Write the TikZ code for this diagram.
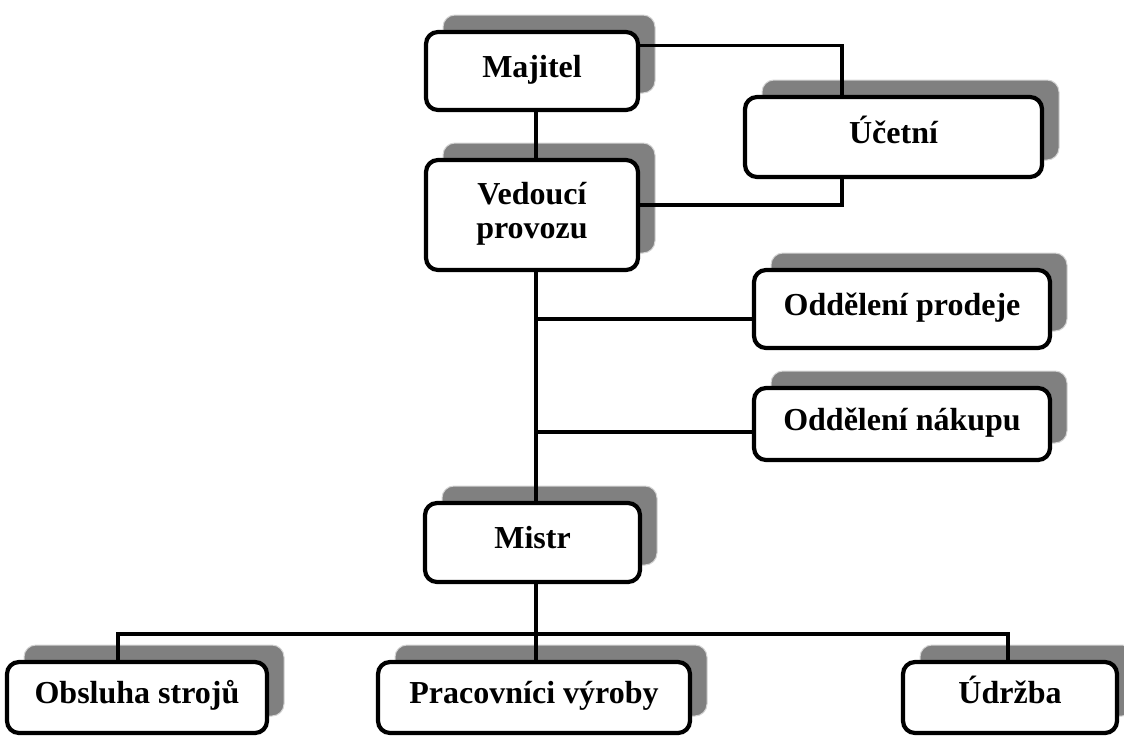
\documentclass[tikz,border=0pt]{standalone}
\usepackage{fontspec}
\setmainfont{Liberation Serif}
\usetikzlibrary{shadows}
\definecolor{shadowgray}{HTML}{808080}
\definecolor{shadowedge}{HTML}{D4D4D4}
\tikzset{
  orgbox/.style={draw=black, line width=4.2pt, rounded corners=12pt, fill=white,
    inner sep=0pt, align=center,
    font=\bfseries\fontsize{32}{34}\selectfont,
    text height=20pt, text depth=8pt,
    general shadow={fill=shadowgray, draw=shadowedge, line width=1pt,
      shadow xshift=17pt, shadow yshift=17pt}},
  conn/.style={draw=black, line width=3.3pt}
}
\begin{document}
\begin{tikzpicture}[x=1pt, y=-1pt]
\useasboundingbox (0,0) rectangle (1124,736);

\node[orgbox, minimum width=212pt, minimum height=78pt] (Majitel) at (532,71) {Majitel};
\node[orgbox, minimum width=297pt, minimum height=80pt] (Ucetni) at (893.5,137) {Účetní};
\node[orgbox, minimum width=212pt, minimum height=110pt, text height=54pt, text depth=8pt] (Vedouci) at (532,215) {Vedoucí\\provozu};
\node[orgbox, minimum width=296pt, minimum height=78pt] (Prodeje) at (902,309) {Oddělení prodeje};
\node[orgbox, minimum width=296pt, minimum height=72pt] (Nakupu) at (902,424) {Oddělení nákupu};
\node[orgbox, minimum width=215pt, minimum height=79pt] (Mistr) at (532.5,542.5) {Mistr};
\node[orgbox, minimum width=260pt, minimum height=71pt] (Obsluha) at (137,697.5) {Obsluha strojů};
\node[orgbox, minimum width=312pt, minimum height=71pt] (Pracovnici) at (534,697.5) {Pracovníci výroby};
\node[orgbox, minimum width=214pt, minimum height=71pt] (Udrzba) at (1010,697.5) {Údržba};

\coordinate (ux) at (842,0);
\coordinate (spine) at (536,0);
\coordinate (j1) at (536,319);
\coordinate (j2) at (536,432);
\coordinate (bus) at (536,634);
\coordinate (b1) at (118,634);
\coordinate (b3) at (1008,634);

% Majitel -> Ucetni
\draw[conn] ([yshift=25.5pt]Majitel.east) -| (ux |- Ucetni.north);
% Ucetni -> Vedouci
\draw[conn] (ux |- Ucetni.south) |- ([yshift=10pt]Vedouci.east);
% Majitel -> Vedouci
\draw[conn] (spine |- Majitel.south) -- (spine |- Vedouci.north);
% Vedouci -> Mistr
\draw[conn] (spine |- Vedouci.south) -- (spine |- Mistr.north);
% branches
\draw[conn] (j1) -- (j1 -| Prodeje.west);
\draw[conn] (j2) -- (j2 -| Nakupu.west);
% Mistr -> bottom row
\draw[conn] (spine |- Mistr.south) -- (bus |- Pracovnici.north);
\draw[conn] (b1 |- Obsluha.north) -- (b1) -- (b3) -- (b3 |- Udrzba.north);
\end{tikzpicture}
\end{document}
